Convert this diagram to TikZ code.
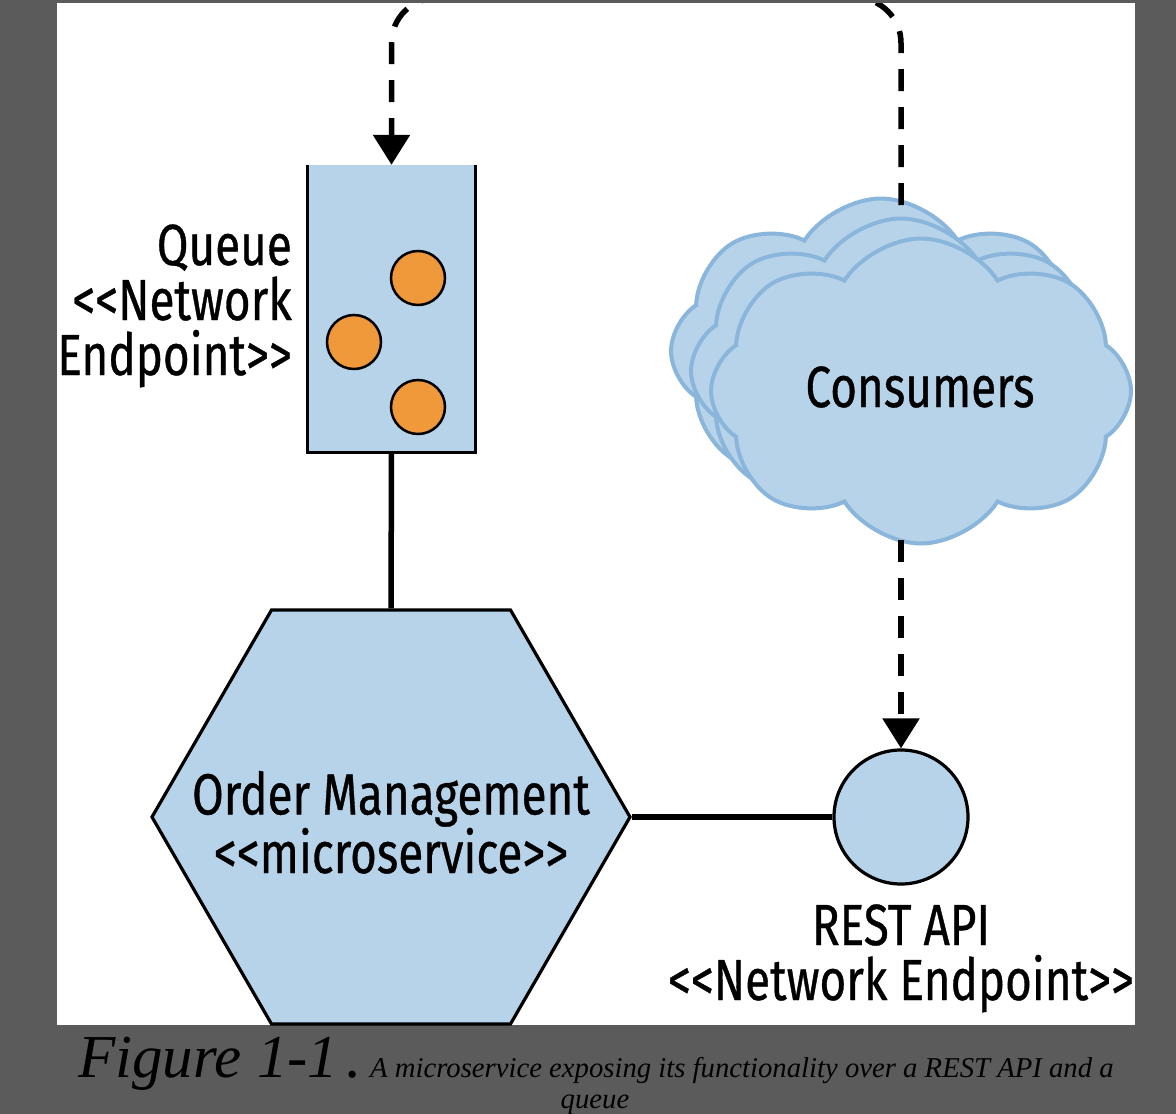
\documentclass[tikz,border=0pt]{standalone}
\usepackage{fontspec}
\setmainfont{Liberation Serif}
\newfontfamily\diagfont[FakeStretch=0.79,FakeBold=0.6,Ligatures=TeXOff]{Fira Sans}
\usetikzlibrary{arrows.meta,shapes.geometric,shapes.symbols}
\definecolor{panelgray}{HTML}{5B5B5B}
\definecolor{boxblue}{HTML}{B7D3E9}
\definecolor{cloudline}{HTML}{8AB6DB}
\definecolor{dotorange}{HTML}{F0993B}
\tikzset{
  lbl/.style={font=\diagfont\fontsize{58}{55}\selectfont, inner sep=0pt, text=black},
  cloudshape/.style={cloud, cloud puffs=8, cloud puff arc=115, fill=boxblue, draw=cloudline, line width=4pt, minimum width=420pt, minimum height=305pt, inner sep=0pt},
  dot/.style={circle, fill=dotorange, draw=black, line width=2.5pt, minimum size=54pt, inner sep=0pt},
  solidlink/.style={line width=5.5pt, black},
  dashlink/.style={line width=5.5pt, black, dash pattern=on 22pt off 16pt, -{Triangle[width=36pt,length=30pt]}}
}
\begin{document}
\begin{tikzpicture}[x=1pt,y=-1pt]
\fill[panelgray] (0,0) rectangle (1176,1114);
\fill[white] (57,3) rectangle (1135,1025);
\useasboundingbox (0,0) rectangle (1176,1114);
\begin{scope}
\clip (57,3) rectangle (1135,1025);
% clouds
\node[cloudshape] (c1) at (881,351) {};
\node[cloudshape] (c2) at (901,371) {};
\node[cloudshape] (c3) at (921,391) {};
\node[lbl, anchor=base] (cons) at (920,407) {Consumers};
% queue
\node[fill=boxblue, minimum width=167pt, minimum height=287pt, inner sep=0pt] (queue) at (391.5,308.5) {};
\draw[line width=3pt] (queue.north west) -- (queue.south west) -- (queue.south east) -- (queue.north east);
\node[dot] (d1) at (418,278) {};
\node[dot] (d2) at (354,342) {};
\node[dot] (d3) at (418,407) {};
\node[lbl, align=right, anchor=base east] (qlabel) at (292,375) {Queue\\<<Network\\Endpoint>>};
% hexagon
\node[regular polygon, regular polygon sides=6, minimum size=478pt, inner sep=0pt, fill=boxblue, draw=black, line width=3.2pt] (hex) at (391,817) {};
\node[lbl, align=center, anchor=base] (hexlabel) at (391,873) {Order Management\\<<microservice>>};
% rest
\node[circle, minimum size=134pt, inner sep=0pt, fill=boxblue, draw=black, line width=3.2pt] (rest) at (901,817) {};
\node[lbl, align=center, anchor=base] (restlabel) at (901,1000) {REST API\\<<Network Endpoint>>};
% connectors
\coordinate (ctop) at (901,205);
\coordinate (cbot) at (901,540);
\draw[solidlink] (queue.south) -- (hex.north);
\draw[solidlink] (hex.east) -- (rest.west);
\draw[dashlink] (cbot) -- (rest.north);
\draw[dashlink, rounded corners=45pt] (ctop) -- (901,-2) -- (391.5,-2) -- (queue.north);
\end{scope}
% caption
\node[anchor=base west, inner sep=0pt, font=\itshape\fontsize{61}{61}\selectfont] (fig) at (78,1077) {Figure 1-1\hspace{8pt}.};
\node[anchor=base west, inner sep=0pt, font=\itshape\fontsize{28.7}{33}\selectfont] (cap) at (370,1077) {A microservice exposing its functionality over a REST API and a};
\node[anchor=base, inner sep=0pt, font=\itshape\fontsize{28.7}{33}\selectfont] (cap2) at (595,1108) {queue};
\end{tikzpicture}
\end{document}
